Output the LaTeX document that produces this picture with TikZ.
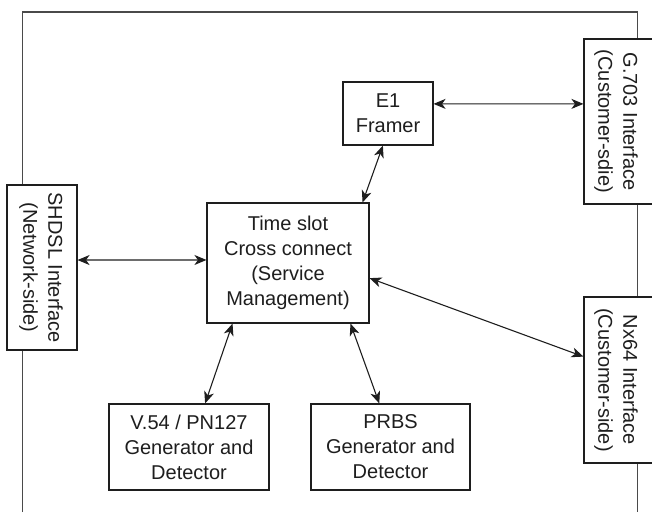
\documentclass[tikz,border=0pt]{standalone}
\usepackage{fontspec}
\setmainfont{Liberation Sans}
\usetikzlibrary{arrows.meta,calc}
\definecolor{ink}{HTML}{1E1E1E}
\definecolor{framec}{HTML}{4A4A4A}
\begin{document}
\begin{tikzpicture}[x=1pt,y=-1pt,
  every node/.style={font=\fontsize{20}{25}\selectfont, text=ink},
  blk/.style={draw=ink, line width=1.1pt, fill=white, inner sep=0pt, align=center},
  conn/.style={draw=ink, line width=1.1pt, {Stealth[length=12pt,width=10pt,inset=3.5pt]}-{Stealth[length=12pt,width=10pt,inset=3.5pt]}},
  framel/.style={draw=framec, line width=1.3pt}]
\useasboundingbox (0,0) rectangle (652,512);
% outer frame
\draw[framel] (22.5,512) -- (22.5,12) -- (637.5,12) -- (637.5,512);
% boxes
\node[blk, minimum width=70pt, minimum height=165pt] (shdsl) at (42,267.5) {};
\node[rotate=-90, align=center] (shdslt) at (41,267.5) {SHDSL Interface\\(Network-side)};
\node[blk, minimum width=90pt, minimum height=165pt] (g703) at (629,121.5) {};
\node[rotate=-90, align=center] (g703t) at (616,121.5) {G.703 Interface\\(Customer-sdie)};
\node[blk, minimum width=90pt, minimum height=166pt] (nx) at (629,380) {};
\node[rotate=-90, align=center] (nxt) at (616,380) {Nx64 Interface\\(Customer-side)};
\node[blk, minimum width=162pt, minimum height=120pt] (ts) at (288,263) {Time slot\\Cross connect\\(Service\\Management)};
\node[blk, minimum width=90pt, minimum height=63pt] (e1) at (388,113.5) {E1\\Framer};
\node[blk, minimum width=160pt, minimum height=86pt] (v54) at (189,447) {V.54 / PN127\\Generator and\\Detector};
\node[blk, minimum width=159pt, minimum height=86pt] (prbs) at (390.5,447) {PRBS\\Generator and\\Detector};
% connectors
\draw[conn] ($(shdsl.north east)!0.455!(shdsl.south east)$) -- ($(ts.north west)!0.475!(ts.south west)$);
\draw[conn] ($(e1.south west)!0.444!(e1.south east)$) -- ($(ts.north west)!0.957!(ts.north east)$);
\draw[conn] ($(e1.north east)!0.35!(e1.south east)$) -- ($(g703.north west)!0.394!(g703.south west)$);
\draw[conn] ($(ts.north east)!0.625!(ts.south east)$) -- ($(nx.north west)!0.36!(nx.south west)$);
\draw[conn] ($(ts.south west)!0.16!(ts.south east)$) -- ($(v54.north west)!0.6!(v54.north east)$);
\draw[conn] ($(ts.south west)!0.883!(ts.south east)$) -- ($(prbs.north west)!0.43!(prbs.north east)$);
\end{tikzpicture}
\end{document}
